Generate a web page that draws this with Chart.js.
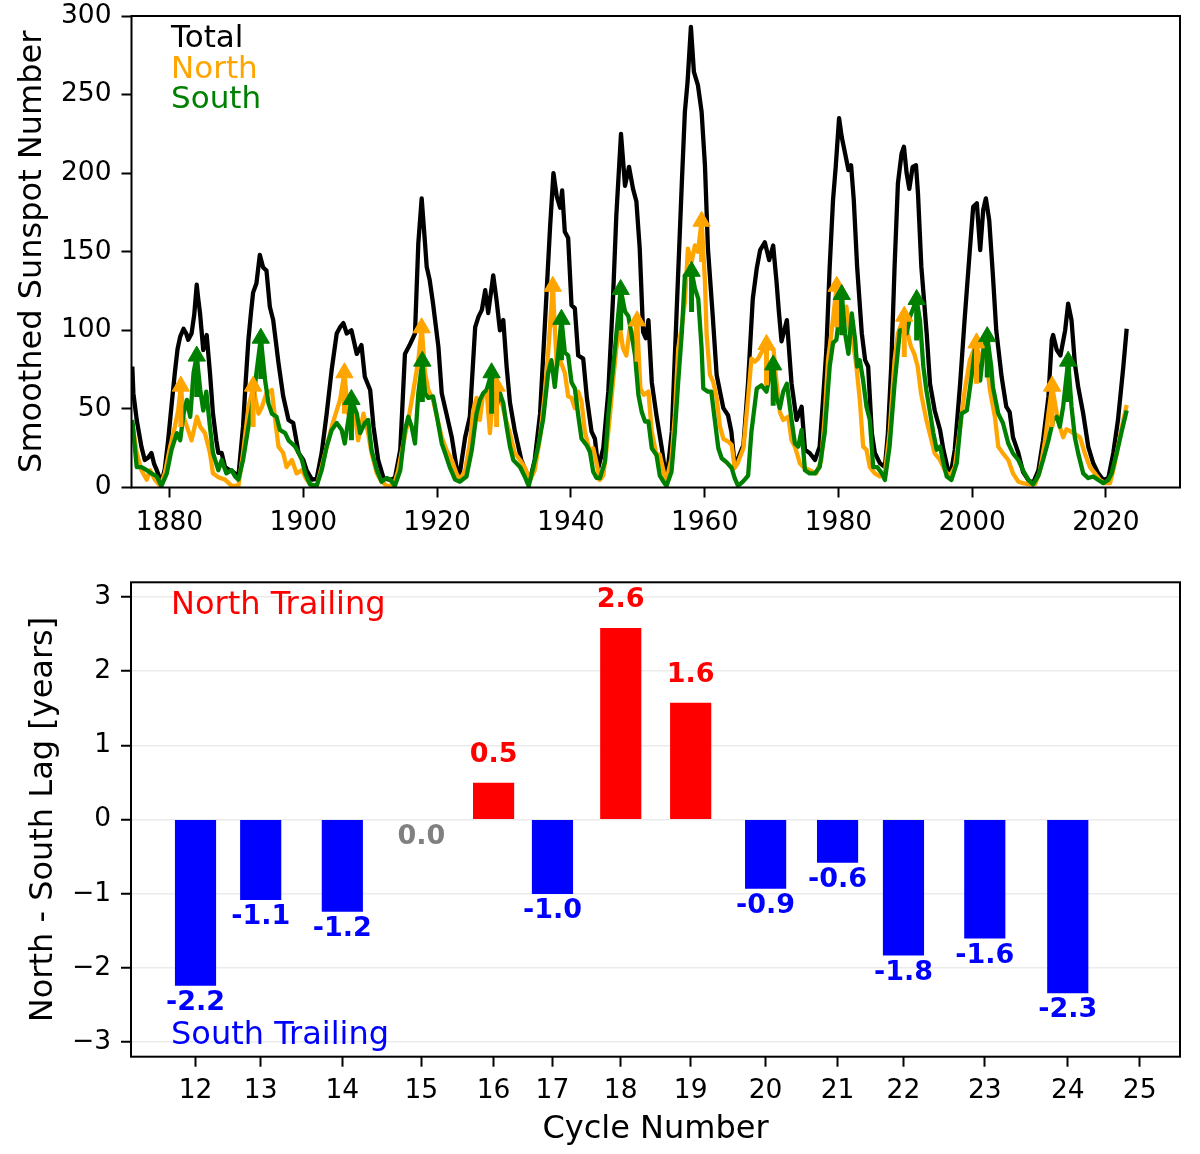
<!DOCTYPE html>
<html>
<head>
<meta charset="utf-8">
<script src="https://cdn.jsdelivr.net/npm/chart.js@4.4.0/dist/chart.umd.min.js"></script>
<style>
html,body{margin:0;padding:0;background:#fff;}
#wrap{position:relative;width:1200px;height:1154px;background:#fff;}
canvas{position:absolute;left:0;}
#topChart{top:0;}
#botChart{top:560px;}
</style>
</head>
<body>
<div id="wrap">
<canvas id="topChart" width="1200" height="560"></canvas>
<canvas id="botChart" width="1200" height="594"></canvas>
</div>
<script>
// ---------------- DATA ----------------
// Smoothed sunspot number, total  [year, value]
const totalSeries = [[1874.44,77],[1874.6,60],[1875.1,43],[1875.8,26],[1876.3,17.5],[1876.8,19],[1877.3,22],[1877.7,15],[1878.1,11],[1878.8,3],[1879.3,12],[1879.8,30],[1880.3,52],[1880.8,73],[1881.2,88],[1881.6,96],[1882.1,101],[1882.5,98],[1882.8,94],[1883.3,98],[1883.7,110],[1884.07,129],[1884.3,120],[1884.56,111],[1885.05,87.5],[1885.56,97],[1886.05,73],[1886.5,47],[1887.0,30],[1887.3,22],[1887.8,22],[1888.3,13],[1889.0,11],[1889.5,10],[1890.3,7],[1891.0,39],[1891.4,68],[1891.8,94],[1892.2,112],[1892.5,124],[1893.0,130],[1893.5,148],[1894.0,140],[1894.5,138],[1895.0,115],[1895.5,106.6],[1896.3,79],[1897.0,58],[1897.8,43],[1898.5,41],[1899.3,22],[1900.0,17.5],[1900.5,11],[1901.3,5],[1902.0,5.5],[1902.75,22],[1903.5,47],[1904.25,75],[1905.0,98],[1905.5,102],[1906.0,104.6],[1906.5,98],[1907.2,100],[1908.0,85],[1908.7,90.6],[1909.2,70.5],[1910.0,62],[1910.5,38.7],[1911.2,17.5],[1912.0,6],[1913.0,4.8],[1913.7,6],[1914.5,24],[1915.2,85],[1915.9,90.6],[1916.7,98],[1917.2,155.5],[1917.7,184],[1918.2,155.5],[1918.45,140.5],[1918.9,132],[1919.4,117],[1920.2,89.6],[1920.7,60],[1921.4,47],[1922.2,32],[1922.9,13],[1923.4,9],[1924.2,32],[1924.9,45],[1925.7,102],[1926.2,108.7],[1926.7,113],[1927.2,125.6],[1927.65,111],[1928.4,135],[1928.9,119],[1929.4,100],[1929.9,106.6],[1930.4,77],[1930.9,54],[1931.6,36.6],[1932.6,17.5],[1933.4,9],[1933.9,5],[1934.6,17.5],[1935.4,47],[1936.1,102],[1936.9,166],[1937.4,200],[1937.9,185],[1938.4,178],[1938.7,189],[1939.1,162.7],[1939.6,158.7],[1940.1,116],[1940.6,114],[1941.1,84],[1941.85,82],[1942.4,57],[1943.1,35.5],[1943.6,31],[1944.1,12.4],[1944.85,25],[1945.6,61],[1946.3,120],[1946.8,173],[1947.5,225],[1948.1,192],[1948.7,204],[1949.3,190],[1949.8,182],[1950.3,152],[1950.8,99],[1951.2,95],[1951.6,106.5],[1952.1,67],[1952.8,46],[1953.6,25],[1954.3,4],[1955.1,35.5],[1955.8,110],[1956.6,194.5],[1957.05,239],[1957.45,258],[1957.95,293],[1958.4,264.5],[1959.0,256],[1959.55,239],[1960.05,205],[1960.5,152],[1961.2,110],[1961.8,71.6],[1962.8,50.5],[1963.5,46],[1964.0,35.5],[1964.5,14],[1965.0,18.6],[1965.8,27],[1966.5,67],[1967.2,120],[1967.8,139.6],[1968.3,151],[1969.0,156],[1969.65,144.7],[1970.25,154],[1970.75,131],[1971.1,112],[1971.5,93],[1972.3,106.5],[1973.0,66],[1973.75,43],[1974.5,51.4],[1975.0,24],[1975.7,22],[1976.5,17.5],[1977.2,26],[1977.7,55.7],[1978.2,87.5],[1978.7,140.5],[1979.2,183],[1979.6,204],[1980.1,235],[1980.5,223],[1981.0,212.6],[1981.5,202],[1981.9,205],[1982.3,183],[1982.8,140.5],[1983.5,98],[1984.0,81],[1984.45,77],[1985.0,34.6],[1985.45,22],[1986.2,15.5],[1986.95,13],[1987.4,34.6],[1987.9,77],[1988.4,140.5],[1988.9,193.5],[1989.45,212.6],[1989.8,216.8],[1990.2,200],[1990.6,190],[1991.1,204],[1991.6,205],[1991.9,187],[1992.4,140.5],[1993.2,98],[1993.7,66],[1994.4,49],[1995.2,36.6],[1995.7,24],[1996.4,11],[1996.9,11],[1997.4,24],[1998.2,66],[1998.9,108.6],[1999.65,151],[2000.15,178.6],[2000.7,180.8],[2001.2,151],[2001.65,176.5],[2002.05,184],[2002.55,170],[2003.1,135],[2003.6,100],[2004.4,70.5],[2005.1,51.4],[2005.6,48],[2006.1,32],[2006.9,22],[2007.6,10],[2008.4,4.8],[2009.1,2.8],[2009.9,11],[2010.6,30],[2011.4,57.8],[2011.9,94],[2012.1,97],[2012.65,87.5],[2013.2,84],[2013.9,100],[2014.35,117],[2014.85,106.5],[2015.35,79],[2015.85,64],[2016.6,47],[2017.35,26],[2018.1,15.4],[2018.85,9],[2019.6,4.8],[2020.35,6],[2021.1,22],[2021.8,43],[2022.6,77],[2023.1,101]];

// Northern hemisphere  [year, value]
const northSeries = [[1874.44,41],[1875.1,22],[1875.8,11],[1876.6,5],[1877.1,11],[1877.8,5],[1878.6,1],[1879.3,9],[1880.1,26],[1880.8,38.7],[1881.3,49],[1881.7,64.5],[1882.1,45],[1882.6,38.7],[1883.3,30],[1884.1,45],[1884.6,38.7],[1885.3,34.6],[1886.05,22],[1886.5,9],[1887.3,6.5],[1888.3,5],[1889.3,1],[1890.3,1],[1891.0,22],[1891.8,51],[1892.2,58],[1892.5,64.5],[1893.3,47],[1893.8,51],[1894.5,60],[1895.3,62],[1895.8,43],[1896.3,26],[1897.0,22],[1897.5,13],[1898.3,17.5],[1899.0,9],[1899.8,11],[1900.5,5],[1901.3,1],[1902.0,1],[1902.75,13],[1903.5,26],[1904.25,38.7],[1905.0,49],[1905.5,55.7],[1906.15,73],[1906.7,47],[1907.5,53.7],[1908.2,30],[1909.0,47],[1909.7,34.6],[1910.2,22],[1911.0,9],[1911.7,3.7],[1912.5,1],[1913.5,1],[1914.2,11],[1914.95,28],[1915.7,43],[1916.4,60],[1917.2,81],[1917.7,101.6],[1918.2,73],[1918.7,62],[1919.4,55.7],[1920.2,41],[1920.7,32],[1921.4,24],[1922.2,17.5],[1922.9,9],[1923.4,4.8],[1924.2,11],[1924.9,28],[1925.4,49],[1925.9,57],[1926.4,43],[1926.9,60],[1927.4,62],[1927.9,34.6],[1928.4,60],[1928.9,64.5],[1929.4,60],[1930.15,45],[1930.9,34.6],[1931.6,22],[1932.4,17.5],[1933.1,13],[1933.9,4.8],[1934.6,11],[1935.4,32],[1936.1,60],[1936.6,85],[1937.3,128],[1937.9,77],[1938.4,81],[1939.1,73],[1939.6,58],[1940.1,57],[1940.6,50.5],[1941.1,61],[1941.6,54.6],[1942.1,35.5],[1942.85,22.8],[1943.35,25],[1943.8,16.4],[1944.35,4.8],[1944.85,7.6],[1945.35,25],[1945.85,46],[1946.3,67],[1946.8,88.5],[1947.3,103],[1947.8,88.5],[1948.3,84],[1948.8,101],[1949.4,92],[1949.9,106],[1950.4,63],[1950.9,59],[1951.6,61],[1952.1,35.5],[1952.8,20.7],[1953.3,21],[1954.0,7.6],[1954.3,4.8],[1955.05,18.6],[1955.55,46],[1956.05,88.5],[1956.6,103],[1957.05,118],[1957.5,152],[1958.05,143.6],[1958.55,154],[1959.0,150],[1959.55,169.4],[1960.05,131],[1960.3,97],[1960.8,71.6],[1961.3,67],[1961.8,57],[1962.3,38.7],[1962.8,31],[1963.6,29],[1964.05,27],[1964.5,12.4],[1965.0,16],[1965.8,25],[1966.5,57],[1967.0,82],[1967.5,80],[1968.0,82],[1968.5,86],[1969.25,91],[1969.8,88.5],[1970.3,88],[1970.75,67],[1971.25,48],[1971.75,43],[1972.5,45],[1973.0,30],[1973.5,26],[1974.25,15.4],[1974.75,13],[1975.7,11],[1976.7,9],[1977.45,17.5],[1977.95,45],[1978.45,81],[1978.95,98],[1979.75,128],[1980.2,115],[1980.7,111],[1981.2,115],[1981.7,98],[1982.2,92],[1982.7,77],[1983.2,55.7],[1983.7,26],[1984.2,24],[1984.7,13],[1985.45,9],[1986.2,7],[1986.95,9],[1987.65,34.6],[1988.4,81],[1988.9,98],[1989.85,109],[1990.35,98],[1990.85,89.6],[1991.35,85],[1991.85,77],[1992.35,60],[1993.15,43],[1993.65,34.6],[1994.4,21.7],[1995.2,17.5],[1995.9,11],[1996.65,7],[1997.4,13],[1998.2,38.7],[1998.9,62],[1999.65,81],[2000.65,92],[2001.2,77],[2001.65,88],[2002.15,81],[2002.65,62],[2003.4,45],[2003.9,26],[2004.6,21.7],[2005.4,17.5],[2006.1,9],[2006.9,3.7],[2007.6,2.8],[2008.6,2],[2009.4,2],[2010.1,10],[2010.9,30],[2011.4,47],[2011.95,64.5],[2012.65,47],[2013.1,38.7],[2013.6,32],[2014.1,37],[2014.6,36],[2015.35,34],[2016.1,32],[2016.85,21.7],[2017.6,13],[2018.35,9],[2019.1,4.8],[2019.85,2.8],[2020.6,2.8],[2021.1,11],[2021.8,26],[2022.6,43],[2023.1,52.5]];

// Southern hemisphere  [year, value]
const southSeries = [[1874.44,43],[1875.1,13],[1875.8,13],[1876.6,11],[1877.3,9],[1878.1,7],[1878.8,1],[1879.6,9],[1880.3,24],[1881.1,34.6],[1881.6,30],[1882.1,47],[1882.6,55.7],[1883.1,45],[1883.6,73],[1884.07,83.6],[1884.6,62],[1885.05,49],[1885.5,61],[1886.05,38.7],[1886.5,22],[1887.3,11],[1887.8,17.5],[1888.5,9],[1889.3,11],[1889.8,7],[1890.3,5],[1891.0,17.5],[1891.8,38.7],[1892.5,55.7],[1893.0,73],[1893.65,95],[1894.3,68],[1894.8,53.5],[1895.3,47],[1896.0,45],[1896.5,36.6],[1897.3,34.6],[1897.8,30],[1898.3,28],[1898.8,26],[1899.3,22],[1899.8,17.5],[1900.3,9],[1901.0,2],[1902.0,1],[1902.75,11],[1903.5,26],[1904.25,36.6],[1905.0,41],[1905.75,36.6],[1906.2,28],[1907.2,56],[1908.0,47],[1908.5,34.6],[1909.2,41],[1909.7,43],[1910.2,24],[1911.0,11],[1911.7,3.7],[1912.5,6],[1913.0,5],[1913.7,1],[1914.5,11],[1915.2,36.6],[1915.7,45],[1916.2,38.7],[1916.7,28],[1917.2,60],[1917.8,80.4],[1918.2,60],[1918.7,57],[1919.4,58],[1919.9,47],[1920.7,28],[1921.2,22],[1921.9,13],[1922.7,5],[1923.4,3.7],[1924.4,7],[1925.2,24],[1925.9,47],[1926.4,55.7],[1926.9,60],[1927.4,62],[1928.15,73],[1928.9,51.4],[1929.4,60],[1929.9,53.7],[1930.4,38.7],[1930.9,26],[1931.4,17.5],[1932.4,13],[1933.1,7],[1933.7,1],[1934.4,13],[1935.1,26],[1935.85,43],[1936.6,72.6],[1937.1,81],[1937.6,64],[1938.1,85],[1938.6,107],[1939.1,86],[1939.6,84],[1940.1,67],[1940.6,63],[1941.1,46],[1941.6,31],[1942.35,27],[1942.85,22.8],[1943.35,10],[1943.85,6],[1944.35,6],[1945.1,16.4],[1945.6,46],[1946.1,67],[1946.6,88.5],[1947.45,126],[1948.1,112],[1948.6,109],[1949.1,97],[1949.6,84],[1950.1,59],[1950.6,48],[1951.1,42],[1951.6,42],[1952.1,25],[1952.8,20.7],[1953.3,7.6],[1953.8,4],[1954.3,1],[1955.05,10],[1955.55,35.5],[1956.05,67],[1956.6,99],[1957.05,135],[1958.05,137.6],[1958.55,126.7],[1959.05,120],[1959.55,88.5],[1959.8,63],[1960.5,61],[1961.0,61],[1961.55,42],[1962.05,25],[1962.55,18.6],[1963.3,16],[1964.05,12.4],[1964.5,6],[1965.0,1],[1965.8,4],[1966.5,7.6],[1967.0,35.5],[1967.8,63],[1968.5,65],[1969.25,61],[1969.75,71.6],[1970.25,78],[1970.75,57],[1971.25,50.5],[1971.75,61],[1972.3,66],[1973.0,43],[1973.5,28],[1974.0,26],[1974.5,36.6],[1975.0,11],[1975.7,9],[1976.5,9],[1977.2,13],[1977.95,34.6],[1978.7,77],[1979.2,92],[1979.7,94],[1980.5,122.8],[1981.0,98],[1981.5,85],[1982.0,110.8],[1982.5,94],[1982.8,77],[1983.2,81],[1983.7,68],[1984.2,51.4],[1984.7,43],[1985.2,13],[1985.8,13],[1986.5,9],[1986.95,4.8],[1987.65,26],[1988.4,66],[1989.2,100],[1989.7,100],[1990.2,98],[1990.7,108.6],[1991.7,119.6],[1992.2,106],[1992.7,77],[1993.15,62],[1993.65,49],[1994.2,34.6],[1994.7,24],[1995.2,26],[1995.7,15.5],[1996.2,7],[1996.9,4.8],[1997.7,15.5],[1998.4,47],[1999.2,49],[1999.9,70.5],[2000.4,87.5],[2001.2,68],[2001.75,89.6],[2002.25,96],[2002.85,77],[2003.1,64],[2003.9,47],[2004.6,41],[2005.4,28],[2006.1,21.7],[2006.9,17.5],[2007.6,11],[2008.4,4.8],[2009.1,2],[2009.9,7.6],[2010.6,17.5],[2011.4,30],[2012.1,43],[2012.65,45],[2013.1,38.7],[2013.6,51.4],[2014.35,80.4],[2014.85,51.4],[2015.35,32],[2015.85,21.7],[2016.6,9],[2017.35,6],[2018.1,7],[2018.85,4.8],[2019.6,2.8],[2020.35,4.8],[2020.85,9],[2021.6,21.7],[2022.4,36.6],[2023.1,49]];

// Hemispheric cycle maxima (arrows)
const northPeakYear = [1881.7, 1892.5, 1906.15, 1917.7, 1928.9, 1937.3, 1949.9, 1959.55, 1969.25, 1979.75, 1989.85, 2000.65, 2011.95];
const northPeakSSN  = [64.5, 64.5, 73, 101.6, 64.5, 128, 106, 169.4, 91, 128, 109, 92, 64.5];
const southPeakYear = [1884.07, 1893.65, 1907.2, 1917.8, 1928.15, 1938.6, 1947.45, 1958.05, 1970.25, 1980.5, 1991.7, 2002.25, 2014.35];
const southPeakSSN  = [83.6, 95, 56, 80.4, 73, 107, 126, 137.6, 78, 122.8, 119.6, 96, 80.4];

// Lower panel: cycles, time of cycle maximum, North - South lag (years)
const cycleNumbers  = [12, 13, 14, 15, 16, 17, 18, 19, 20, 21, 22, 23, 24, 25];
const cycleMaxYear  = [1883.96, 1893.7, 1905.9, 1917.7, 1928.5, 1937.3, 1947.5, 1957.95, 1969.15, 1979.9, 1989.75, 2001.9, 2014.3, 2025.05];
const lagYears      = [-2.24, -1.08, -1.24, 0.0, 0.49, -1.0, 2.58, 1.57, -0.93, -0.58, -1.83, -1.6, -2.34];

const yearTicks = [1880, 1900, 1920, 1940, 1960, 1980, 2000, 2020];
const sunspotTicks = [0, 50, 100, 150, 200, 250, 300];
const lagTicks = [-3, -2, -1, 0, 1, 2, 3];

const X_MIN = 1874.32, X_MAX = 2031.07;

// ---------------- STYLE / HELPERS ----------------
Chart.defaults.font.family = "'DejaVu Sans', sans-serif";
Chart.defaults.color = '#000';
const ORANGE = '#ffa500', GREEN = '#008000', RED = '#ff0000', BLUE = '#0000ff';
const TICK_FONT = 26.5;

const toXY = s => s.map(p => ({x: p[0], y: p[1]}));
function shafts(years, vals) {
  const out = [];
  years.forEach((t, i) => { out.push({x: t, y: vals[i] - 26}); out.push({x: t, y: vals[i]}); out.push({x: t, y: null}); });
  return out;
}
const heads = (years, vals) => years.map((t, i) => ({x: t, y: vals[i]}));

const bgPlugin = {
  id: 'bg',
  beforeDraw(c) { const ctx = c.ctx; ctx.save(); ctx.fillStyle = '#fff'; ctx.fillRect(0, 0, c.width, c.height); ctx.restore(); }
};
const framePlugin = {
  id: 'frame',
  afterDraw(c) {
    const a = c.chartArea, ctx = c.ctx;
    ctx.save(); ctx.strokeStyle = '#000'; ctx.lineWidth = 2;
    ctx.strokeRect(a.left, a.top, a.right - a.left, a.bottom - a.top);
    ctx.restore();
  }
};
const tickGrid = {display: true, drawOnChartArea: false, drawTicks: true, tickLength: 10, tickWidth: 2, tickColor: '#000', offset: false};
const noPadX = (h) => s => { s.height = h; s.paddingLeft = 0; s.paddingRight = 0; };
const noPadY = (w) => s => { s.width = w; s.paddingTop = 0; s.paddingBottom = 0; };

// ---------------- TOP PANEL ----------------
const topLegendPlugin = {
  id: 'topLegend',
  afterDraw(c) {
    const ctx = c.ctx;
    ctx.save();
    ctx.font = "31px 'DejaVu Sans'";
    ctx.textAlign = 'left'; ctx.textBaseline = 'alphabetic';
    ctx.fillStyle = '#000'; ctx.fillText('Total', 171, 46.7);
    ctx.fillStyle = ORANGE; ctx.fillText('North', 171, 77.5);
    ctx.fillStyle = GREEN; ctx.fillText('South', 171, 108.3);
    ctx.restore();
  }
};

new Chart(document.getElementById('topChart'), {
  type: 'line',
  data: {
    datasets: [
      {data: toXY(totalSeries), borderColor: '#000', borderWidth: 4.3, pointRadius: 0, tension: 0, borderJoinStyle: 'round', order: 5},
      {data: toXY(northSeries), borderColor: ORANGE, borderWidth: 4.3, pointRadius: 0, tension: 0, borderJoinStyle: 'round', order: 4},
      {data: toXY(southSeries), borderColor: GREEN, borderWidth: 4.3, pointRadius: 0, tension: 0, borderJoinStyle: 'round', order: 3},
      {data: shafts(northPeakYear, northPeakSSN), borderColor: ORANGE, borderWidth: 5, pointRadius: 0, spanGaps: false, order: 2},
      {data: heads(northPeakYear, northPeakSSN), showLine: false, pointStyle: 'triangle', pointRadius: 10, pointBackgroundColor: ORANGE, pointBorderColor: ORANGE, pointBorderWidth: 1, order: 2},
      {data: shafts(southPeakYear, southPeakSSN), borderColor: GREEN, borderWidth: 5, pointRadius: 0, spanGaps: false, order: 1},
      {data: heads(southPeakYear, southPeakSSN), showLine: false, pointStyle: 'triangle', pointRadius: 10, pointBackgroundColor: GREEN, pointBorderColor: GREEN, pointBorderWidth: 1, order: 1}
    ]
  },
  options: {
    responsive: false, animation: false, devicePixelRatio: 1, events: [],
    layout: {padding: {top: 16, right: 20, left: 0, bottom: 0}},
    plugins: {legend: {display: false}, tooltip: {enabled: false}},
    scales: {
      x: {
        type: 'linear', min: X_MIN, max: X_MAX,
        afterBuildTicks: s => { s.ticks = yearTicks.map(v => ({value: v})); },
        afterFit: noPadX(72.5),
        ticks: {autoSkip: false, maxRotation: 0, font: {size: TICK_FONT}, color: '#000', padding: 10, callback: v => String(v)},
        grid: tickGrid, border: {display: false}
      },
      y: {
        min: 0, max: 300,
        afterBuildTicks: s => { s.ticks = sunspotTicks.map(v => ({value: v})); },
        afterFit: noPadY(131.5),
        ticks: {font: {size: TICK_FONT}, color: '#000', padding: 10, callback: v => String(v)},
        grid: tickGrid, border: {display: false},
        title: {display: true, text: 'Smoothed Sunspot Number', font: {size: 32}, color: '#000', padding: {top: 13, bottom: 0}}
      }
    }
  },
  plugins: [bgPlugin, framePlugin, topLegendPlugin]
});

// ---------------- BOTTOM PANEL ----------------
const barLabelPlugin = {
  id: 'barLabels',
  afterDatasetsDraw(c) {
    const ctx = c.ctx, meta = c.getDatasetMeta(0);
    ctx.save();
    ctx.font = "bold 27px 'DejaVu Sans'";
    ctx.textAlign = 'center'; ctx.textBaseline = 'alphabetic';
    meta.data.forEach((el, i) => {
      const v = lagYears[i];
      const txt = v.toFixed(1);
      if (v > 0) { ctx.fillStyle = RED; ctx.fillText(txt, el.x, el.y - 21); }
      else if (v < 0) { ctx.fillStyle = BLUE; ctx.fillText(txt, el.x, el.y + 24.5); }
      else { ctx.fillStyle = '#808080'; ctx.fillText(txt, el.x, el.y + 24.5); }
    });
    ctx.font = "32px 'DejaVu Sans'";
    ctx.textAlign = 'left';
    ctx.fillStyle = RED; ctx.fillText('North Trailing', 171, 54.3);
    ctx.fillStyle = BLUE; ctx.fillText('South Trailing', 171, 484.3);
    ctx.restore();
  }
};

new Chart(document.getElementById('botChart'), {
  type: 'bar',
  data: {
    datasets: [{
      data: lagYears.map((v, i) => ({x: cycleMaxYear[i], y: v})),
      backgroundColor: lagYears.map(v => v > 0 ? RED : (v < 0 ? BLUE : 'rgba(0,0,0,0)')),
      borderWidth: 0, barThickness: 40.5
    }]
  },
  options: {
    responsive: false, animation: false, devicePixelRatio: 1, events: [],
    layout: {padding: {top: 22.3, right: 20, left: 0, bottom: 0}},
    plugins: {legend: {display: false}, tooltip: {enabled: false}},
    scales: {
      x: {
        type: 'linear', min: X_MIN, max: X_MAX, offset: false,
        afterBuildTicks: s => { s.ticks = cycleMaxYear.map(v => ({value: v})); },
        afterFit: noPadX(97.3),
        ticks: {autoSkip: false, maxRotation: 0, font: {size: TICK_FONT}, color: '#000', padding: 9,
                callback: v => { const i = cycleMaxYear.indexOf(v); return i >= 0 ? String(cycleNumbers[i]) : ''; }},
        grid: tickGrid, border: {display: false},
        title: {display: true, text: 'Cycle Number', font: {size: 32}, color: '#000', padding: {top: 0, bottom: 5.6}}
      },
      y: {
        min: -3.2, max: 3.2,
        afterBuildTicks: s => { s.ticks = lagTicks.map(v => ({value: v})); },
        afterFit: noPadY(131),
        ticks: {font: {size: TICK_FONT}, color: '#000', padding: 10, callback: v => v < 0 ? '\u2212' + Math.abs(v) : String(v)},
        grid: {display: true, drawOnChartArea: true, color: '#ebebeb', lineWidth: 1.5, drawTicks: true, tickLength: 10, tickWidth: 2, tickColor: '#000'},
        border: {display: false},
        title: {display: true, text: 'North - South Lag [years]', font: {size: 32}, color: '#000', padding: {top: 24.5, bottom: 0}}
      }
    }
  },
  plugins: [bgPlugin, framePlugin, barLabelPlugin]
});
</script>
</body>
</html>
